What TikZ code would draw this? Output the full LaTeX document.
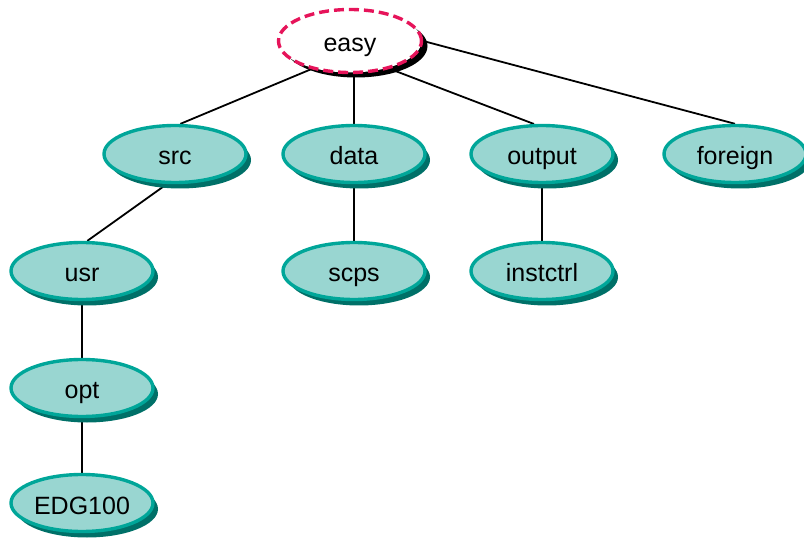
\documentclass[tikz,border=0pt]{standalone}
\usepackage{fontspec}
\setmainfont{Liberation Sans}
\usetikzlibrary{shapes.geometric,shadows,backgrounds}

\definecolor{dirfill}{RGB}{153,214,209}
\definecolor{dirline}{RGB}{0,166,153}
\definecolor{dirshadow}{RGB}{0,112,104}
\definecolor{rootline}{RGB}{230,20,90}

\begin{document}
\begin{tikzpicture}
  % Global look of the folder ellipses
  \def\lw{3.4pt} % border width
  \tikzset{
    blob/.style = {ellipse, line width=\lw, minimum width=142pt, minimum height=57pt, inner sep=0pt,
                   font=\fontsize{25}{30}\selectfont, text height=22pt, text depth=0pt},
    dir/.style  = {blob, draw=dirline, fill=dirfill,
                   drop shadow={shadow xshift=5pt, shadow yshift=-6pt, fill=dirshadow, opacity=1}},
    root/.style = {blob, draw=rootline, dash pattern=on 10pt off 5pt, fill=white,
                   minimum width=143pt, minimum height=63pt,
                   drop shadow={shadow xshift=6pt, shadow yshift=-5pt, fill=black, opacity=1}},
    link/.style = {line width=1.8pt}
  }

  % Grid units in pixels, y pointing down
  \begin{scope}[x=1pt,y=-1pt]
    \useasboundingbox (0,0) rectangle (804,540);

    % --- Root ---
    \node[root] (easy) at (350,41) {easy};

    % --- First level ---
    \node[dir] (src)     at (175,154) {src};
    \node[dir] (data)    at (354,154) {data};
    \node[dir] (output)  at (542,154) {output};
    \node[dir] (foreign) at (735,154) {foreign};

    % --- Second level ---
    \node[dir] (usr)      at (82,271)  {usr};
    \node[dir] (scps)     at (354,271) {scps};
    \node[dir] (instctrl) at (542,271) {instctrl};

    % --- Deeper under usr ---
    \node[dir] (opt) at (82,388) {opt};
    \node[dir] (edg) at (82,503) {EDG100};

    % --- Links, behind the ellipses ---
    \begin{pgfonlayer}{background}
      \draw[link] (easy.216) -- (src.80);
      \draw[link] (easy.south -| data.north) -- (data.north);
      \draw[link] (easy.325) -- (output.105);
      \draw[link] (easy.east) -- (foreign.north);
      \draw[link] (src.255) -- (usr.80);
      \draw[link] (data.south) -- (scps.north);
      \draw[link] (output.south) -- (instctrl.north);
      \draw[link] (usr.south) -- (opt.north);
      \draw[link] (opt.south) -- (edg.north);
    \end{pgfonlayer}
  \end{scope}
\end{tikzpicture}
\end{document}
